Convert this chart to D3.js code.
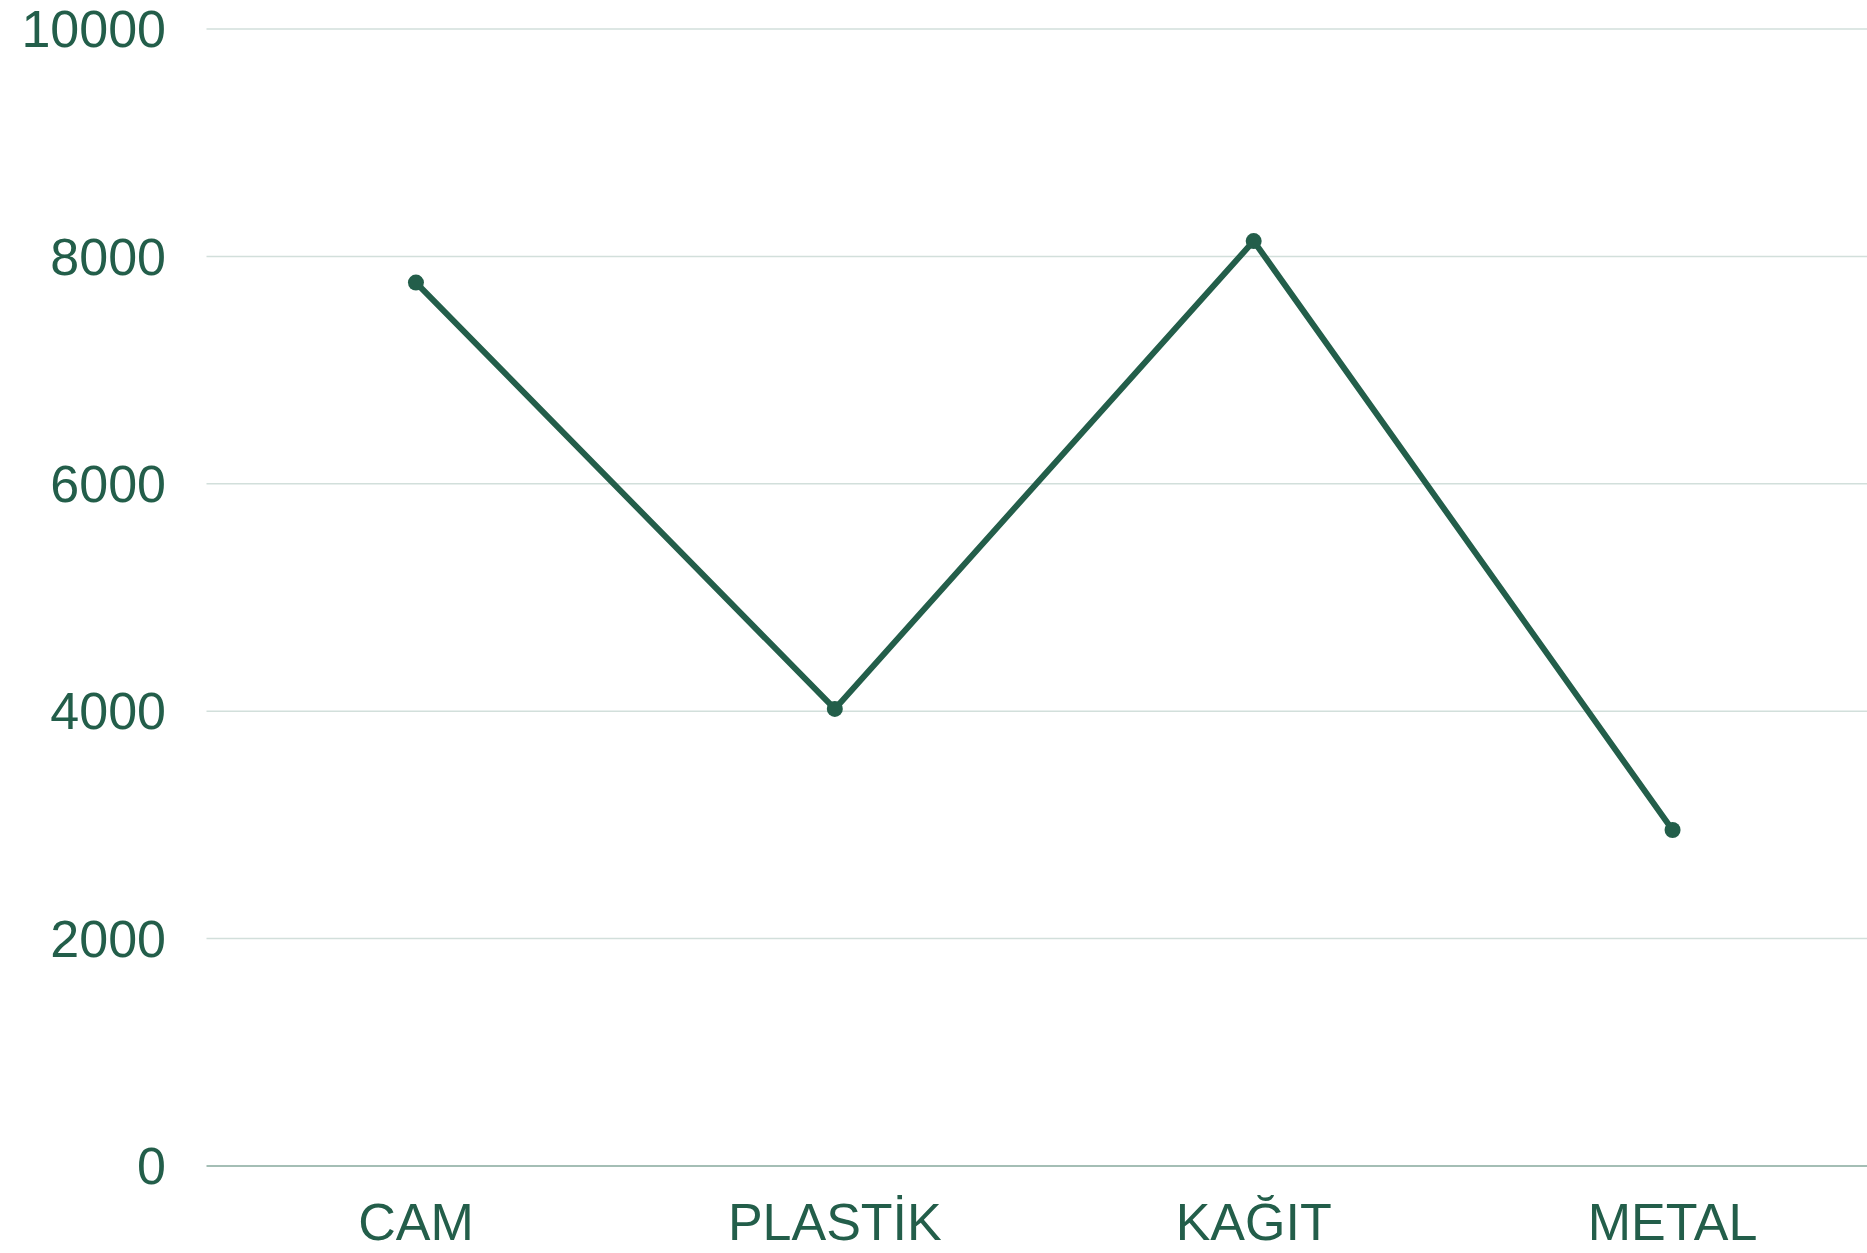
<!DOCTYPE html>
<html>
<head>
<meta charset="utf-8">
<script src="https://cdn.jsdelivr.net/npm/d3@7"></script>
<style>
  html, body { margin: 0; padding: 0; background: #fff; overflow: hidden; }
  svg { display: block; }
</style>
</head>
<body>
<svg id="chart" width="1867" height="1253"></svg>
<script>
// data
const categories = ["CAM", "PLASTİK", "KAĞIT", "METAL"]
const values = [7770, 4020, 8135, 2955]
const yTicks = [0, 2000, 4000, 6000, 8000, 10000]

const width = 1867, height = 1253
const margin = { top: 29, right: -15, bottom: 87, left: 206.5 }
const ink = "#235e4a"

const svg = d3.select("#chart")

let xScale = d3.scalePoint()
    .domain(categories)
    .range([margin.left, width - margin.right])
    .padding(0.5)

let yScale = d3.scaleLinear()
    .domain([0, 10000])
    .range([height - margin.bottom, margin.top])

// gridlines
svg.append("g")
    .selectAll("line")
    .data(yTicks)
    .enter()
    .append("line")
    .attr("x1", margin.left)
    .attr("x2", width)
    .attr("y1", d => yScale(d))
    .attr("y2", d => yScale(d))
    .attr("stroke", d => d === 0 ? "#86a99d" : "#d2dfdb")
    .attr("stroke-width", 1.5)

// y tick labels
svg.append("g")
    .selectAll("text")
    .data(yTicks)
    .enter()
    .append("text")
    .attr("x", 166)
    .attr("y", d => yScale(d))
    .attr("dy", "0.35em")
    .attr("text-anchor", "end")
    .attr("font-family", "Liberation Sans, Arial, sans-serif")
    .attr("font-size", 52)
    .attr("fill", ink)
    .text(d => d)

// x labels
svg.append("g")
    .selectAll("text")
    .data(categories)
    .enter()
    .append("text")
    .attr("x", d => xScale(d))
    .attr("y", 1240)
    .attr("text-anchor", "middle")
    .attr("font-family", "Liberation Sans, Arial, sans-serif")
    .attr("font-size", 52)
    .attr("fill", ink)
    .text(d => d)

let lineGenerator = d3.line()
    .x((d, i) => xScale(categories[i]))
    .y(d => yScale(d))

svg.append("path")
    .datum(values)
    .attr("d", lineGenerator)
    .attr("fill", "none")
    .attr("stroke", ink)
    .attr("stroke-width", 6)
    .attr("stroke-linejoin", "round")

svg.append("g")
    .selectAll("circle")
    .data(values)
    .enter()
    .append("circle")
    .attr("cx", (d, i) => xScale(categories[i]))
    .attr("cy", d => yScale(d))
    .attr("r", 8)
    .attr("fill", ink)
</script>
</body>
</html>
